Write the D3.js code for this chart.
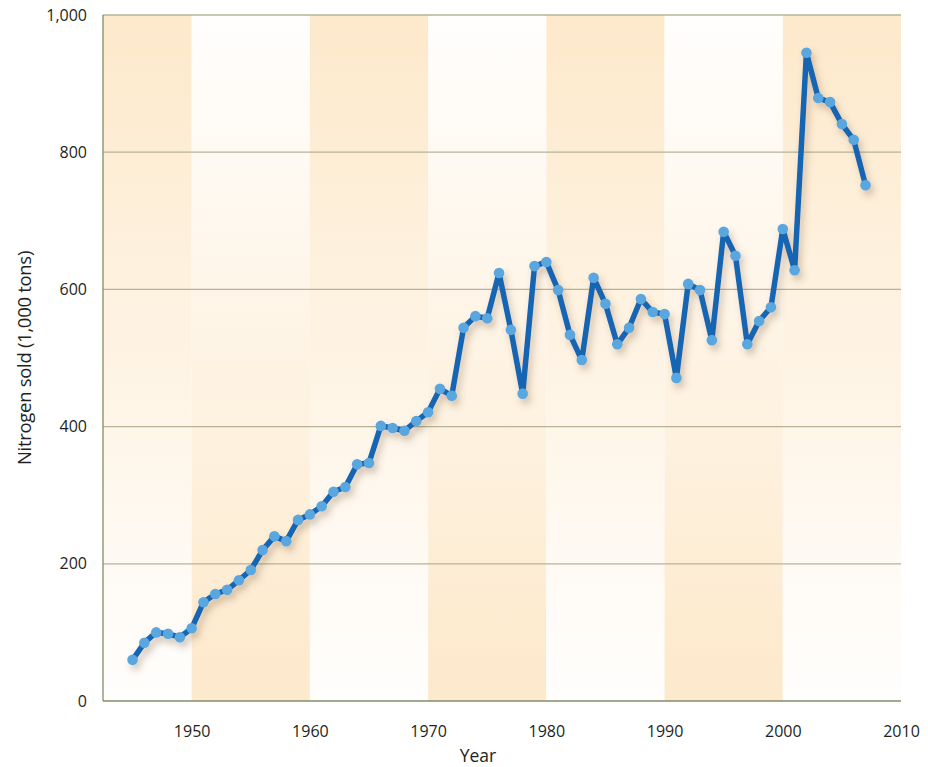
<!DOCTYPE html>
<html>
<head>
<meta charset="utf-8">
<script src="https://cdn.jsdelivr.net/npm/d3@7"></script>
<style>
  body { margin: 0; background: #fff; }
  text { font-family: "Open Sans", "Noto Sans", sans-serif; fill: #231f20; }
</style>
</head>
<body>
<div id="chart"></div>
<script>
// nitrogen sold per year, 1,000 tons
const years = d3.range(1945, 2008);
const nitrogen = [
    60, 85, 100, 98, 93, 106, 144, 156, 162, 176,
    191, 220, 240, 233, 264, 272, 284, 305, 312, 345,
    347, 401, 398, 394, 408, 421, 455, 445, 544, 561,
    558, 624, 541, 448, 634, 640, 599, 534, 497, 617,
    579, 520, 544, 586, 567, 564, 471, 608, 599, 526,
    684, 649, 520, 554, 574, 688, 628, 945, 879, 873,
    841, 818, 752
];
const yTicks = [0, 200, 400, 600, 800, 1000];
const xTicks = [1950, 1960, 1970, 1980, 1990, 2000, 2010];
// decade bands: start, end, gradient direction
const bands = [
    {from: 1942.5, to: 1950, id: 'topShade'},
    {from: 1950, to: 1960, id: 'bottomShade'},
    {from: 1960, to: 1970, id: 'topShade'},
    {from: 1970, to: 1980, id: 'bottomShade'},
    {from: 1980, to: 1990, id: 'topShade'},
    {from: 1990, to: 2000, id: 'bottomShade'},
    {from: 2000, to: 2010, id: 'topShade'}
];

const width = 928, height = 767;
const margin = {top: 15, right: 27, bottom: 66, left: 103};

const svg = d3.select('#chart')
    .append('svg')
    .attr('width', width)
    .attr('height', height);

const defs = svg.append('defs');

function addGradient(id, topColor, bottomColor) {
    const g = defs.append('linearGradient')
        .attr('id', id)
        .attr('x1', 0).attr('y1', 0)
        .attr('x2', 0).attr('y2', 1);
    g.append('stop').attr('offset', '0%').attr('stop-color', topColor);
    g.append('stop').attr('offset', '100%').attr('stop-color', bottomColor);
}
addGradient('topShade', '#fde9cb', '#fffefd');
addGradient('bottomShade', '#fffefd', '#fde9cb');

const shadow = defs.append('filter')
    .attr('id', 'shadow')
    .attr('x', '-10%').attr('y', '-10%')
    .attr('width', '130%').attr('height', '130%');
shadow.append('feDropShadow')
    .attr('dx', 3).attr('dy', 5)
    .attr('stdDeviation', 3.5)
    .attr('flood-color', '#6b4a2a')
    .attr('flood-opacity', 0.3);

const x = d3.scaleLinear()
    .domain([1942.5, 2010])
    .range([margin.left, width - margin.right]);

const y = d3.scaleLinear()
    .domain([0, 1000])
    .range([height - margin.bottom, margin.top]);

// background bands
svg.append('g')
    .selectAll('rect')
    .data(bands).enter()
    .append('rect')
    .attr('x', d => x(d.from))
    .attr('y', y(1000))
    .attr('width', d => x(d.to) - x(d.from))
    .attr('height', y(0) - y(1000))
    .attr('fill', d => 'url(#' + d.id + ')');

// horizontal grid
svg.append('g')
    .selectAll('line')
    .data(yTicks.filter(d => d > 0)).enter()
    .append('line')
    .attr('x1', x(1942.5))
    .attr('x2', x(2010))
    .attr('y1', d => y(d))
    .attr('y2', d => y(d))
    .attr('stroke', '#b4b596')
    .attr('stroke-width', 1.3);

// axis lines
svg.append('line')
    .attr('x1', x(1942.5)).attr('x2', x(1942.5))
    .attr('y1', y(0)).attr('y2', y(1000))
    .attr('stroke', '#7f8f64').attr('stroke-width', 1.3);
svg.append('line')
    .attr('x1', x(1942.5)).attr('x2', x(2010))
    .attr('y1', y(0)).attr('y2', y(0))
    .attr('stroke', '#7f8f64').attr('stroke-width', 1.3);

// y tick labels
const yAxis = svg.append('g')
    .attr('transform', 'translate(' + (margin.left - 13) + ',0)')
    .call(d3.axisLeft(y).tickValues(yTicks).tickSize(0).tickFormat(d3.format(',')));
yAxis.select('.domain').remove();
yAxis.selectAll('text')
    .attr('font-size', 16)
    .attr('font-family', '"Open Sans", "Noto Sans", sans-serif')
    .attr('fill', '#231f20');

// x tick labels
const xAxis = svg.append('g')
    .attr('transform', 'translate(0,' + (y(0) + 22) + ')')
    .call(d3.axisBottom(x).tickValues(xTicks).tickSize(0).tickFormat(d3.format('d')));
xAxis.select('.domain').remove();
xAxis.selectAll('text')
    .attr('font-size', 16)
    .attr('font-family', '"Open Sans", "Noto Sans", sans-serif')
    .attr('fill', '#231f20');

// axis titles
svg.append('text')
    .attr('x', 478)
    .attr('y', 762)
    .attr('text-anchor', 'middle')
    .attr('font-size', 17.5)
    .text('Year');

svg.append('text')
    .attr('transform', 'translate(31,' + ((y(0) + y(1000)) / 2) + ') rotate(-90)')
    .attr('text-anchor', 'middle')
    .attr('font-size', 18.5)
    .style('letter-spacing', '-0.3px')
    .text('Nitrogen sold (1,000 tons)');

// series
const points = years.map((yr, i) => [yr, nitrogen[i]]);

const lineFunc = d3.line()
    .x(d => x(d[0]))
    .y(d => y(d[1]));

const series = svg.append('g').attr('filter', 'url(#shadow)');

series.append('path')
    .attr('d', lineFunc(points))
    .attr('fill', 'none')
    .attr('stroke', '#1565b3')
    .attr('stroke-width', 5.5)
    .attr('stroke-linejoin', 'round');

series.selectAll('circle')
    .data(points).enter()
    .append('circle')
    .attr('cx', d => x(d[0]))
    .attr('cy', d => y(d[1]))
    .attr('r', 5.3)
    .attr('fill', '#5aa6de');
</script>
</body>
</html>
